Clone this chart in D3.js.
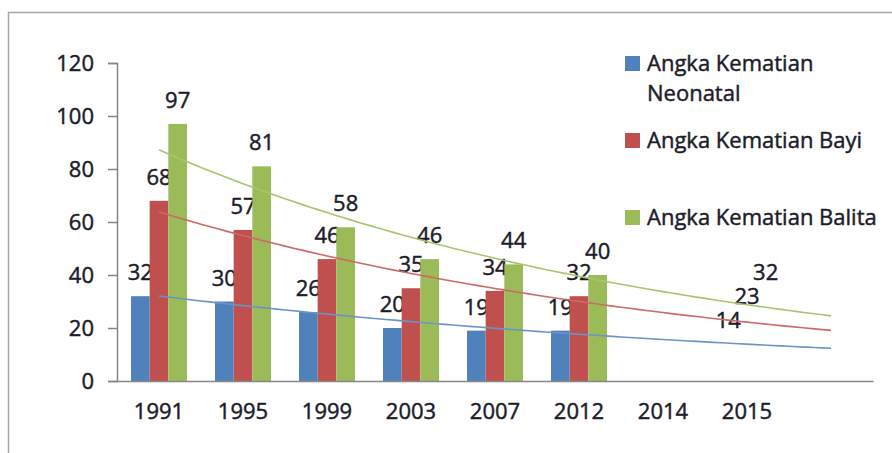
<!DOCTYPE html>
<html>
<head>
<meta charset="utf-8">
<script src="https://cdn.jsdelivr.net/npm/d3@7"></script>
<style>
  body { margin: 0; background: #fff; }
  text { font-family: "Open Sans", sans-serif; fill: #1c1c2a; stroke: #1c1c2a; stroke-width: 0.45px; }
</style>
</head>
<body>
<div id="chart"></div>
<script>
var width = 892,
    height = 453;

// data
var years = ["1991", "1995", "1999", "2003", "2007", "2012", "2014", "2015"];
var neonatal = [32, 30, 26, 20, 19, 19, null, 14];
var bayi = [68, 57, 46, 35, 34, 32, null, 23];
var balita = [97, 81, 58, 46, 44, 40, null, 32];
var seriesNames = ["Angka Kematian Neonatal", "Angka Kematian Bayi", "Angka Kematian Balita"];
var yTicks = [0, 20, 40, 60, 80, 100, 120];

// 2015 values are targets: label only, the bar has no fill
var unfilledYears = ["2015"];
var colors = ["#4F81BD", "#C0504D", "#9BBB59"];
var trendColors = ["#6b93c9", "#cc6a67", "#a8c56e"];

var series = [neonatal, bayi, balita].map(function(vals, i) {
    return { name: seriesNames[i], values: vals, color: colors[i], trend: trendColors[i], idx: i };
});

var svg = d3.select("#chart")
    .append("svg")
    .attr("width", width)
    .attr("height", height);

// chart area border (runs off the right and bottom)
svg.append("rect")
    .attr("x", 8.5)
    .attr("y", 12.5)
    .attr("width", 1000)
    .attr("height", 1000)
    .attr("fill", "none")
    .attr("stroke", "#a6a6a6")
    .attr("stroke-width", 1.5);

// one empty slot after 2015 for the trendline forecast
var slots = years.concat([" "]);

var xScale = d3.scaleBand()
    .domain(slots)
    .range([117, 873]);

var xInner = d3.scaleBand()
    .domain([0, 1, 2])
    .range([0, xScale.bandwidth()])
    .paddingOuter(0.75);

var yScale = d3.scaleLinear()
    .domain([0, 120])
    .range([381, 63]);

// y axis
var yAxis = d3.axisLeft(yScale)
    .tickValues(yTicks)
    .tickSize(9)
    .tickPadding(14)
    .tickSizeOuter(9);

var gy = svg.append("g")
    .attr("transform", "translate(117,0)")
    .call(yAxis);
gy.select(".domain").attr("stroke", "#868686").attr("stroke-width", 1.5);
gy.selectAll(".tick line").attr("stroke", "#868686").attr("stroke-width", 1.5);
gy.selectAll(".tick text")
    .attr("font-size", 22)
    .attr("font-family", "Open Sans")
    .attr("fill", "#1c1c2a");

// bars
var groups = svg.selectAll(".series")
    .data(series)
    .enter()
    .append("g")
    .attr("class", "series");

groups.selectAll("rect")
    .data(function(s) {
        return s.values.map(function(v, j) { return { v: v, year: years[j], s: s }; })
            .filter(function(d) { return d.v !== null; });
    })
    .enter()
    .append("rect")
    .attr("x", function(d) { return xScale(d.year) + xInner(d.s.idx); })
    .attr("y", function(d) { return yScale(d.v); })
    .attr("width", xInner.bandwidth())
    .attr("height", function(d) { return yScale(0) - yScale(d.v); })
    .attr("fill", function(d) {
        return unfilledYears.indexOf(d.year) >= 0 ? "none" : d.s.color;
    });

// x axis
var xAxis = d3.axisBottom(xScale)
    .tickSize(0)
    .tickPadding(22)
    .tickSizeOuter(0);

var gx = svg.append("g")
    .attr("transform", "translate(0,381)")
    .call(xAxis);
gx.select(".domain").attr("stroke", "#868686").attr("stroke-width", 1.5);
gx.selectAll(".tick text")
    .attr("font-size", 22)
    .attr("font-family", "Open Sans")
    .attr("fill", "#1c1c2a");

// exponential trendlines (least squares on ln y), forward one period
function expTrend(vals) {
    var pts = [];
    vals.forEach(function(v, j) { if (v !== null) pts.push([j + 1, Math.log(v)]); });
    var mx = d3.mean(pts, function(p) { return p[0]; });
    var my = d3.mean(pts, function(p) { return p[1]; });
    var sxy = d3.sum(pts, function(p) { return (p[0] - mx) * (p[1] - my); });
    var sxx = d3.sum(pts, function(p) { return (p[0] - mx) * (p[0] - mx); });
    var b = sxy / sxx;
    var a = my - b * mx;
    return function(x) { return Math.exp(a + b * x); };
}

var line = d3.line()
    .x(function(d) { return d[0]; })
    .y(function(d) { return yScale(d[1]); });

series.forEach(function(s) {
    var f = expTrend(s.values);
    var pts = [];
    for (var k = 0; k <= 80; k++) {
        var x = 1 + k * 0.1;
        var px = xScale(slots[0]) + xScale.bandwidth() / 2 + (x - 1) * xScale.step();
        pts.push([px, f(x)]);
    }
    svg.append("path")
        .attr("d", line(pts))
        .attr("fill", "none")
        .attr("stroke", s.trend)
        .attr("stroke-width", 1.6);
});

// data labels
groups.selectAll("text.lbl")
    .data(function(s) {
        return s.values.map(function(v, j) { return { v: v, year: years[j], s: s }; })
            .filter(function(d) { return d.v !== null; });
    })
    .enter()
    .append("text")
    .attr("class", "lbl")
    .attr("x", function(d) { return xScale(d.year) + xInner(d.s.idx) + xInner.bandwidth() / 2; })
    .attr("y", function(d) { return yScale(d.v) - 16; })
    .attr("text-anchor", "middle")
    .attr("font-size", 22)
    .text(function(d) { return d.v; });

// legend
var legendRows = [
    { lines: ["Angka Kematian", "Neonatal"], base: 71 },
    { lines: ["Angka Kematian Bayi"], base: 148 },
    { lines: ["Angka Kematian Balita"], base: 225 }
];

var legend = svg.append("g");
legendRows.forEach(function(r, i) {
    legend.append("rect")
        .attr("x", 625)
        .attr("y", r.base - 15)
        .attr("width", 15)
        .attr("height", 15)
        .attr("fill", colors[i]);
    r.lines.forEach(function(t, k) {
        legend.append("text")
            .attr("x", 647)
            .attr("y", r.base + k * 30)
            .attr("font-size", 22)
            .text(t);
    });
});
</script>
</body>
</html>
